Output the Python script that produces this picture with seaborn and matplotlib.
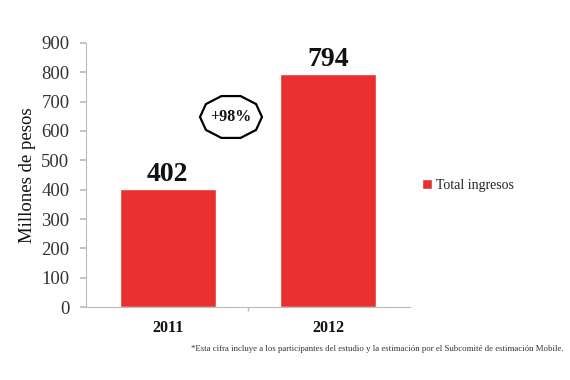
import matplotlib
matplotlib.use("Agg")
import matplotlib.pyplot as plt
import seaborn as sns
import pandas as pd
import numpy as np
from matplotlib.patches import Polygon

years = ["2011", "2012"]
values = [402, 794]
series_name = "Total ingresos"
y_ticks = [0, 100, 200, 300, 400, 500, 600, 700, 800, 900]
growth_label = "+98%"
y_label = "Millones de pesos"
footnote = "*Esta cifra incluye a los participantes del estudio y la estimación por el Subcomité de estimación Mobile."

RED = "#E8302F"
sns.set_theme(style="white")
plt.rcParams["font.family"] = ["Liberation Serif", "DejaVu Serif"]

df = pd.DataFrame({"Año": years, "Valor": values, "Serie": series_name})

fig = plt.figure(figsize=(5.7, 3.8), dpi=100)
ax = fig.add_axes([0.151, 0.192, 0.568, 0.695])
sns.barplot(data=df, x="Año", y="Valor", hue="Serie", palette=[RED], width=0.6,
            ax=ax, saturation=1)

ax.set_ylim(0, 900)
ax.set_yticks(y_ticks)
ax.set_yticklabels([str(t) for t in y_ticks], fontsize=13.5, color="#333333")
ax.set_xlim(-0.51, 1.51)
ax.set_xticks([0, 1])
ax.set_xticklabels(years, fontsize=11.5, fontweight="bold", color="#111111")
ax.set_xticks([0.5], minor=True)
ax.tick_params(axis="x", which="minor", length=3, color="#bbbbbb", direction="out", bottom=True)
ax.tick_params(axis="x", which="major", length=0, pad=9)
ax.tick_params(axis="y", length=4, color="#bbbbbb", direction="out", left=True, pad=8)
ax.set_xlabel("")
ax.set_ylabel(y_label, fontsize=13.5, color="#111111", labelpad=4)
for s in ["top", "right"]:
    ax.spines[s].set_visible(False)
for s in ["left", "bottom"]:
    ax.spines[s].set_color("#bbbbbb")
    ax.spines[s].set_linewidth(0.8)

for i, v in enumerate(values):
    ax.text(i, v + 6, str(v), ha="center", va="bottom", fontsize=20, fontweight="bold", color="#111111")

# growth badge
cx, cy = 231 / 570, 1 - 117 / 380
hw, hh = 31 / 570, 22 / 380
ang = np.deg2rad(np.arange(0, 360, 36))
pts = np.column_stack([cx + hw * np.cos(ang), cy + hh * np.sin(ang)])
fig.patches.append(Polygon(pts, closed=True, fill=False, edgecolor="black", linewidth=1.6,
                           transform=fig.transFigure))
fig.text(cx, cy, growth_label, ha="center", va="center", fontsize=11.5, fontweight="bold", color="#111111")

leg = ax.legend(loc="center left", bbox_to_anchor=(1.0, 0.46), frameon=False, fontsize=10,
                handlelength=0.7, handleheight=0.7, handletextpad=0.3)
for t in leg.get_texts():
    t.set_color("#222222")

fig.text(0.988, 1 - 349 / 380, footnote, ha="right", va="center", fontsize=6.3, color="#333333")

fig.savefig("out.png", dpi=100)
